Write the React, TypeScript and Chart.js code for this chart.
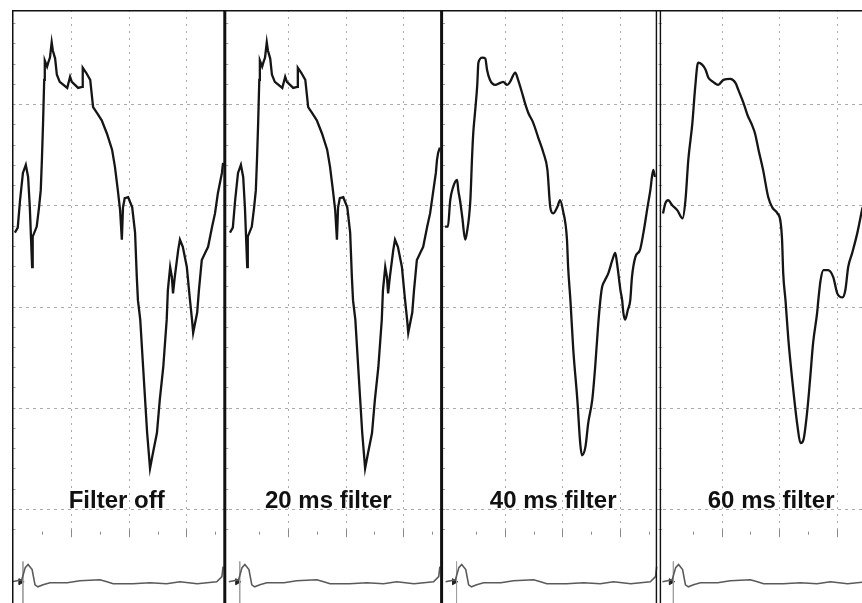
import { useEffect, useRef } from "react";
import { Chart, registerables } from "chart.js";

Chart.register(...registerables);

type Pt = [number, number];

// Panel titles and panel-local layout of the time axis (ms) and amplitude axis (mV)
const panelTitles = ["Filter off", "20 ms filter", "40 ms filter", "60 ms filter"];
const panelOffsetsMs = [0, 377, 754, 1131];
const titleTimesMs = [179, 170, 184, 186];
const titleBaselineMv = -1.99;
const separatorLocalMs = -10;
const gridTimesMs = [100, 200, 300];
const rowTickTimesMs = [50, 100, 150, 200, 250, 300, 350];
const gridLevelsMv = [2, 1, 0, -1, -2];
const tickRowMv = -2.24;
const edgeTickTopMv = 2.8;
const edgeTickBottomMv = -2.2;
const edgeTickStepMv = 0.2;
const xRangeMs: [number, number] = [-3, 1475];
const yRangeMv: [number, number] = [-2.93, 2.93];

// Signal traces, [time ms, amplitude mV] in panel-local time
const filterOffTrace: Pt[] = [
  [2, 0.73], [7, 0.78], [11, 1.05], [16, 1.32], [21, 1.4], [25, 1.28], [28, 0.98], [32, 0.39], [33, 0.69],
  [40, 0.79], [44, 0.98], [47, 1.15], [49, 1.45], [51, 1.81], [53, 2.24], [54, 2.43], [58, 2.37], [60, 2.41],
  [63, 2.46], [66, 2.61], [68, 2.53], [72, 2.45], [75, 2.29], [80, 2.22], [93, 2.16], [98, 2.27], [101, 2.22],
  [112, 2.16], [119, 2.17], [120, 2.36], [126, 2.31], [133, 2.24], [138, 1.97], [145, 1.91], [153, 1.84],
  [162, 1.71], [171, 1.55], [176, 1.38], [181, 1.15], [185, 0.95], [188, 0.66], [190, 0.98], [193, 1.07],
  [199, 1.08], [206, 0.98], [211, 0.73], [214, 0.29], [216, 0.06], [220, -0.13], [225, -0.6], [232, -1.25],
  [237, -1.6], [242, -1.45], [249, -1.25], [254, -0.92], [260, -0.6], [266, -0.13], [268, 0.16], [272, 0.39],
  [275, 0.29], [277, 0.13], [280, 0.29], [286, 0.56], [289, 0.66], [294, 0.59], [301, 0.39], [306, 0.09],
  [310, -0.13], [312, -0.26], [319, -0.06], [322, 0.16], [327, 0.46], [333, 0.53], [338, 0.59], [345, 0.79],
  [350, 0.92], [355, 1.12], [362, 1.32], [364, 1.42],
];

const filter20Trace: Pt[] = [
  [-1, 0.73], [4, 0.78], [8, 1.05], [13, 1.32], [18, 1.4], [22, 1.28], [25, 0.98], [29, 0.39], [30, 0.69],
  [37, 0.79], [41, 0.98], [44, 1.15], [46, 1.45], [48, 1.81], [50, 2.24], [51, 2.43], [55, 2.37], [57, 2.41],
  [60, 2.46], [63, 2.61], [65, 2.53], [69, 2.45], [72, 2.29], [77, 2.22], [90, 2.16], [95, 2.27], [98, 2.22],
  [109, 2.16], [116, 2.17], [117, 2.36], [123, 2.31], [130, 2.24], [135, 1.97], [142, 1.91], [150, 1.84],
  [159, 1.71], [168, 1.55], [173, 1.38], [178, 1.15], [182, 0.95], [185, 0.66], [187, 0.98], [190, 1.07],
  [196, 1.08], [203, 0.98], [208, 0.73], [211, 0.29], [213, 0.06], [217, -0.13], [222, -0.6], [229, -1.25],
  [234, -1.6], [239, -1.45], [246, -1.25], [251, -0.92], [257, -0.6], [263, -0.13], [265, 0.16], [269, 0.39],
  [272, 0.29], [274, 0.13], [277, 0.29], [283, 0.56], [286, 0.66], [291, 0.59], [298, 0.39], [303, 0.09],
  [307, -0.13], [309, -0.26], [316, -0.06], [319, 0.16], [324, 0.46], [330, 0.53], [335, 0.59], [342, 0.79],
  [347, 0.92], [352, 1.12], [357, 1.32], [359, 1.45], [361, 1.52], [364, 1.57],
];

const filter40Trace: Pt[] = [
  [-4, 0.79], [1, 0.79], [5, 1.05], [10, 1.18], [17, 1.25], [19, 1.15], [22, 1.05], [26, 0.88], [31, 0.66],
  [34, 0.73], [40, 1.05], [43, 1.48], [45, 1.71], [48, 1.91], [52, 2.19], [54, 2.41], [61, 2.46], [66, 2.45],
  [69, 2.34], [74, 2.24], [83, 2.19], [92, 2.21], [97, 2.22], [104, 2.19], [109, 2.22], [118, 2.31], [123, 2.24],
  [130, 2.11], [135, 2.01], [141, 1.91], [149, 1.82], [158, 1.67], [167, 1.52], [174, 1.35], [179, 0.98],
  [184, 0.92], [191, 0.98], [196, 1.05], [201, 0.95], [208, 0.66], [210, 0.39], [214, 0.06], [219, -0.43],
  [226, -0.92], [231, -1.35], [234, -1.47], [240, -1.39], [245, -1.15], [252, -0.92], [257, -0.6], [262, -0.2],
  [266, 0.06], [269, 0.19], [274, 0.26], [280, 0.33], [287, 0.46], [292, 0.53], [295, 0.43], [301, 0.16],
  [304, 0.06], [306, -0.06], [309, -0.13], [314, -0.03], [318, 0.06], [321, 0.29], [327, 0.49], [335, 0.56],
  [341, 0.73], [348, 0.98], [353, 1.15], [358, 1.35], [361, 1.28],
];

const filter60Trace: Pt[] = [
  [-2, 0.92], [2, 1.02], [7, 1.05], [14, 1.0], [23, 0.95], [32, 0.87], [37, 1.05], [42, 1.45], [49, 1.81],
  [54, 2.17], [59, 2.41], [66, 2.39], [72, 2.34], [77, 2.26], [85, 2.22], [94, 2.19], [103, 2.24], [115, 2.25],
  [124, 2.21], [129, 2.14], [138, 2.01], [145, 1.89], [153, 1.79], [158, 1.71], [164, 1.55], [172, 1.35],
  [181, 1.08], [188, 0.98], [197, 0.92], [202, 0.85], [205, 0.66], [207, 0.33], [211, 0.06], [216, -0.33],
  [225, -0.85], [232, -1.19], [237, -1.35], [242, -1.32], [249, -1.02], [254, -0.7], [259, -0.36], [266, -0.06],
  [268, 0.06], [272, 0.26], [277, 0.36], [285, 0.36], [294, 0.29], [301, 0.13], [310, 0.09], [315, 0.16],
  [320, 0.39], [327, 0.53], [336, 0.73], [345, 0.98], [352, 1.15],
];

// Reference (stimulus) channel shown under every panel
const referenceTrace: Pt[] = [
  [-3, -2.72], [14, -2.7], [20, -2.58], [25, -2.55], [32, -2.6], [37, -2.75], [42, -2.77], [51, -2.75],
  [63, -2.73], [93, -2.73], [115, -2.71], [150, -2.7], [162, -2.72], [173, -2.74], [207, -2.74], [237, -2.73],
  [266, -2.74], [289, -2.72], [319, -2.74], [353, -2.72], [362, -2.67], [364, -2.57],
];
const stimulusArrowMs = 12;
const stimulusArrowMv = -2.72;
const stimulusLineMs = 16;
const stimulusLineMv = [-2.52, -2.93];

const panelTraces = [filterOffTrace, filter20Trace, filter40Trace, filter60Trace];

function toXY(trace: Pt[], offset: number) {
  return trace.map(([t, v]) => ({ x: offset + t, y: v }));
}

const framePlugin = {
  id: "panelFrame",
  beforeDatasetsDraw(chart: any) {
    const { ctx, chartArea: a, scales } = chart;
    const x = scales.x;
    const y = scales.y;
    ctx.save();
    ctx.lineWidth = 1;
    ctx.strokeStyle = "#ababab";
    ctx.setLineDash([3, 4]);
    for (const v of gridLevelsMv) {
      const py = Math.round(y.getPixelForValue(v)) + 0.5;
      ctx.beginPath();
      ctx.moveTo(a.left, py);
      ctx.lineTo(a.right, py);
      ctx.stroke();
    }
    ctx.setLineDash([2, 5]);
    const rowPy = y.getPixelForValue(tickRowMv);
    for (const off of panelOffsetsMs) {
      for (const t of gridTimesMs) {
        const px = Math.round(x.getPixelForValue(off + t)) + 0.5;
        if (px > a.right) continue;
        ctx.beginPath();
        ctx.moveTo(px, a.top);
        ctx.lineTo(px, rowPy);
        ctx.stroke();
      }
    }
    ctx.setLineDash([]);
    ctx.strokeStyle = "#8a8a8a";
    for (const off of panelOffsetsMs) {
      for (const t of rowTickTimesMs) {
        const px = Math.round(x.getPixelForValue(off + t)) + 0.5;
        if (px > a.right) continue;
        const h = gridTimesMs.includes(t) ? 4 : 1.5;
        ctx.beginPath();
        ctx.moveTo(px, rowPy - h);
        ctx.lineTo(px, rowPy + h);
        ctx.stroke();
      }
    }
    ctx.strokeStyle = "#a0a0a0";
    panelOffsetsMs.forEach((off, k) => {
      const ex = k === 0 ? a.left : x.getPixelForValue(off + separatorLocalMs);
      for (let v = edgeTickTopMv; v >= edgeTickBottomMv - 1e-6; v -= edgeTickStepMv) {
        const py = Math.round(y.getPixelForValue(v)) + 0.5;
        ctx.beginPath();
        ctx.moveTo(ex, py);
        ctx.lineTo(ex + 3.5, py);
        ctx.stroke();
      }
    });
    ctx.restore();
  },
  afterDatasetsDraw(chart: any) {
    const { ctx, chartArea: a, scales } = chart;
    const x = scales.x;
    const y = scales.y;
    ctx.save();
    ctx.strokeStyle = "#111";
    ctx.lineWidth = 1.5;
    ctx.beginPath();
    ctx.moveTo(a.left, a.top + 0.75);
    ctx.lineTo(a.right, a.top + 0.75);
    ctx.stroke();
    ctx.beginPath();
    ctx.moveTo(a.left + 0.75, a.top);
    ctx.lineTo(a.left + 0.75, a.bottom);
    ctx.stroke();
    panelOffsetsMs.forEach((off, k) => {
      if (k === 0) return;
      const px = x.getPixelForValue(off + separatorLocalMs);
      if (k === panelOffsetsMs.length - 1) {
        ctx.lineWidth = 1.4;
        for (const dx of [-2, 2]) {
          ctx.beginPath();
          ctx.moveTo(px + dx, a.top);
          ctx.lineTo(px + dx, a.bottom);
          ctx.stroke();
        }
      } else {
        ctx.lineWidth = 3;
        ctx.beginPath();
        ctx.moveTo(px, a.top);
        ctx.lineTo(px, a.bottom);
        ctx.stroke();
      }
    });
    ctx.fillStyle = "#111";
    ctx.font = 'bold 24px "Liberation Sans", Arial, sans-serif';
    ctx.textAlign = "center";
    ctx.textBaseline = "alphabetic";
    panelTitles.forEach((title, k) => {
      ctx.fillText(title, x.getPixelForValue(panelOffsetsMs[k] + titleTimesMs[k]), y.getPixelForValue(titleBaselineMv));
    });
    ctx.restore();
  },
};

export default function App() {
  const ref = useRef<HTMLCanvasElement>(null);
  useEffect(() => {
    const canvas = ref.current;
    if (!canvas) return;
    const datasets: any[] = [];
    panelTraces.forEach((trace, k) => {
      const off = panelOffsetsMs[k];
      datasets.push({
        label: panelTitles[k],
        data: toXY(trace, off),
        showLine: true,
        borderColor: "#151515",
        borderWidth: 2.3,
        pointRadius: 0,
        cubicInterpolationMode: k >= 2 ? "monotone" : "default",
        tension: 0,
      });
      datasets.push({
        label: "reference " + k,
        data: toXY(referenceTrace, off),
        showLine: true,
        borderColor: "#5a5a5a",
        borderWidth: 1.6,
        pointRadius: 0,
      });
      datasets.push({
        label: "stimulus " + k,
        data: stimulusLineMv.map((v) => ({ x: off + stimulusLineMs, y: v })),
        showLine: true,
        borderColor: "#a0a0a0",
        borderWidth: 1,
        pointRadius: 0,
      });
      datasets.push({
        label: "marker " + k,
        data: [{ x: off + stimulusArrowMs, y: stimulusArrowMv }],
        showLine: false,
        pointStyle: "triangle",
        rotation: 90,
        pointRadius: 3.5,
        backgroundColor: "#222",
        borderColor: "#222",
        borderWidth: 1,
      });
    });
    const chart = new Chart(canvas, {
      type: "scatter",
      data: { datasets },
      options: {
        responsive: false,
        maintainAspectRatio: false,
        animation: false,
        events: [],
        layout: { autoPadding: false, padding: { left: 12, top: 10, right: 0, bottom: 0 } },
        plugins: { legend: { display: false }, tooltip: { enabled: false } },
        scales: {
          x: { type: "linear", display: false, min: xRangeMs[0], max: xRangeMs[1] },
          y: { type: "linear", display: false, min: yRangeMv[0], max: yRangeMv[1] },
        },
      },
      plugins: [framePlugin],
    });
    return () => chart.destroy();
  }, []);
  return (
    <div style={{ position: "fixed", left: 0, top: 0, width: 862, height: 603, background: "#fff", overflow: "hidden" }}>
      <canvas ref={ref} width={862} height={603} style={{ display: "block", width: 862, height: 603 }} />
    </div>
  );
}
